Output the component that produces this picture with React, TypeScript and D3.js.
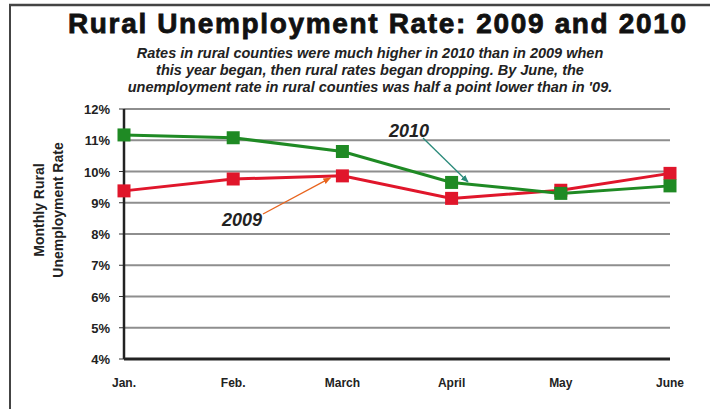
import * as d3 from 'd3'
import React from 'react'

// monthly rural unemployment rate, %
const months = ['Jan.', 'Feb.', 'March', 'April', 'May', 'June']
const rates2009 = [9.38, 9.76, 9.86, 9.14, 9.4, 9.94]
const rates2010 = [11.17, 11.08, 10.64, 9.65, 9.3, 9.54]
const yTicks = [4, 5, 6, 7, 8, 9, 10, 11, 12]

const subtitle = [
  'Rates in rural counties were much higher in 2010 than in 2009 when',
  'this year began, then rural rates began dropping. By June, the',
  "unemployment rate in rural counties was half a point lower than in '09.",
]

const W = 710
const H = 409
const margin = { top: 109, right: 40, bottom: 50, left: 124 }
const innerW = 670 - margin.left
const innerH = 359 - margin.top

const App = () => {
  const x = d3.scalePoint<string>().domain(months).range([0, innerW])
  const y = d3.scaleLinear().domain([4, 12]).range([innerH, 0])

  const line = d3
    .line<number>()
    .x((_, i) => x(months[i]) || 0)
    .y((d) => y(d))

  const series = [
    { key: '2009', values: rates2009, color: '#e0162b' },
    { key: '2010', values: rates2010, color: '#1f8a24' },
  ]

  const font = 'Arial, "Liberation Sans", sans-serif'
  const sq = 13

  return (
    <svg width={W} height={H} style={{ position: 'absolute', left: 0, top: 0 }}>
      <defs>
        <marker id='arrOrange' viewBox='0 0 10 10' refX='9' refY='5' markerWidth='6' markerHeight='6' orient='auto'>
          <path d='M0,1 L10,5 L0,9 z' fill='#e8641e' />
        </marker>
        <marker id='arrTeal' viewBox='0 0 10 10' refX='9' refY='5' markerWidth='6' markerHeight='6' orient='auto'>
          <path d='M0,1 L10,5 L0,9 z' fill='#2a8a7a' />
        </marker>
      </defs>
      <rect width={W} height={H} fill='#fff' />
      {/* frame */}
      <line x1={9} x2={W} y1={5} y2={5} stroke='#444' strokeWidth={2.5} />
      <line x1={10} x2={10} y1={4} y2={H} stroke='#444' strokeWidth={2} />

      <text
        x={377}
        y={33}
        textAnchor='middle'
        fontFamily={font}
        fontWeight='bold'
        fontSize={28}
        fill='#111'
        stroke='#111'
        strokeWidth={0.8}
        textLength={618}
        lengthAdjust='spacing'
      >
        Rural Unemployment Rate: 2009 and 2010
      </text>
      {subtitle.map((s, i) => (
        <text
          key={i}
          x={370}
          y={58 + i * 17}
          textAnchor='middle'
          fontFamily={font}
          fontStyle='italic'
          fontWeight='bold'
          fontSize={14.5}
          fill='#222'
        >
          {s}
        </text>
      ))}

      <g transform={`translate(${margin.left}, ${margin.top})`}>
        {yTicks.map((t) => (
          <g key={t}>
            {t > 4 && <line x1={0} x2={innerW} y1={y(t)} y2={y(t)} stroke='#8e8e8e' strokeWidth={2} />}
            <line x1={-5} x2={0} y1={y(t)} y2={y(t)} stroke='#333' strokeWidth={1} />
            <text x={-14} y={y(t) + 5} textAnchor='end' fontFamily={font} fontWeight='bold' fontSize={13} fill='#222'>
              {t}%
            </text>
          </g>
        ))}
        <line x1={0} x2={0} y1={0} y2={innerH} stroke='#222' strokeWidth={2.5} />
        <line x1={0} x2={innerW} y1={innerH} y2={innerH} stroke='#222' strokeWidth={3} />

        {months.map((m) => (
          <text
            key={m}
            x={x(m) || 0}
            y={innerH + 28}
            textAnchor='middle'
            fontFamily={font}
            fontWeight='bold'
            fontSize={12}
            fill='#222'
          >
            {m}
          </text>
        ))}

        {series.map((s) => (
          <g key={s.key}>
            <path d={line(s.values) || ''} fill='none' stroke={s.color} strokeWidth={3} />
            {s.values.map((v, i) => (
              <rect
                key={i}
                x={(x(months[i]) || 0) - sq / 2}
                y={y(v) - sq / 2}
                width={sq}
                height={sq}
                fill={s.color}
              />
            ))}
          </g>
        ))}

        {/* callouts */}
        <line
          x1={263 - margin.left}
          y1={214 - margin.top}
          x2={(x('March') || 0) - 12}
          y2={y(rates2009[2]) + 2}
          stroke='#e8641e'
          strokeWidth={1.3}
          markerEnd='url(#arrOrange)'
        />
        <text x={242 - margin.left} y={226 - margin.top} textAnchor='middle' fontFamily={font} fontStyle='italic' fontWeight='bold' fontSize={18} fill='#222'>
          2009
        </text>
        <line
          x1={423 - margin.left}
          y1={138 - margin.top}
          x2={468 - margin.left}
          y2={182 - margin.top}
          stroke='#2a8a7a'
          strokeWidth={1.3}
          markerEnd='url(#arrTeal)'
        />
        <text x={409 - margin.left} y={137 - margin.top} textAnchor='middle' fontFamily={font} fontStyle='italic' fontWeight='bold' fontSize={18} fill='#222'>
          2010
        </text>
      </g>

      <g fontFamily={font} fontWeight='bold' fontSize={14} fill='#222' textAnchor='middle'>
        <text transform='translate(44, 210) rotate(-90)'>Monthly Rural</text>
        <text transform='translate(63, 210) rotate(-90)'>Unemployment Rate</text>
      </g>
    </svg>
  )
}

export default App
